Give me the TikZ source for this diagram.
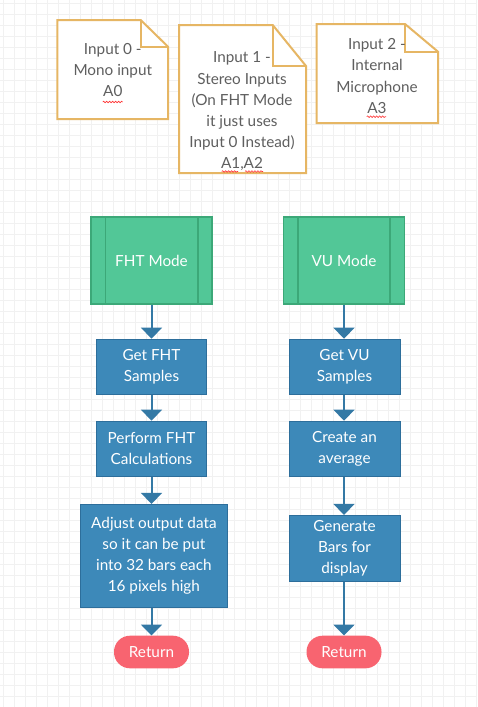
\documentclass[tikz,border=0pt]{standalone}
\usepackage{fontspec}
\setmainfont{Lato}
\usetikzlibrary{arrows.meta,calc,decorations.pathmorphing}
\definecolor{gfill}{RGB}{82,199,151}
\definecolor{gline}{RGB}{60,168,120}
\definecolor{bfill}{RGB}{61,137,185}
\definecolor{bline}{RGB}{45,110,155}
\definecolor{arr}{RGB}{52,121,165}
\definecolor{rfill}{RGB}{248,100,112}
\definecolor{gold}{RGB}{230,182,100}
\definecolor{notetxt}{RGB}{95,95,95}
\definecolor{gridc}{RGB}{241,241,241}
\tikzset{
  every node/.style={font=\fontsize{15.3}{21.2}\selectfont},
  modebox/.style={draw=gline,fill=gfill,line width=1.5pt,text=white,minimum height=87pt,inner sep=0pt},
  procbox/.style={draw=bline,fill=bfill,line width=0.8pt,text=white,align=center,inner sep=0pt},
  retbox/.style={fill=rfill,text=white,rounded corners=16pt,minimum width=75pt,minimum height=32.6pt,inner sep=0pt},
  flow/.style={draw=arr,line width=2pt,-{Triangle[width=21pt,length=11pt]}},
  notebox/.style={draw=gold,fill=white,line width=2pt,line join=miter},
  notetext/.style={text=notetxt,align=center,inner sep=0pt},
  squig/.style={draw=red!80!white,line width=0.6pt,decorate,decoration={snake,segment length=3pt,amplitude=0.8pt}}
}
\begin{document}
\begin{tikzpicture}[x=1pt,y=-1pt]
\useasboundingbox (0,0) rectangle (477,707);
\fill[white] (0,0) rectangle (477,707);
\foreach \i in {0,...,43} {\draw[gridc,line width=0.6pt] (\i*11+3,0) -- (\i*11+3,707);}
\foreach \j in {0,...,64} {\draw[gridc,line width=0.6pt] (0,\j*11+3) -- (477,\j*11+3);}

% notes
\draw[notebox] (57.3,20) -- (140.7,20) -- (168,46.7) -- (168,119) -- (57.3,119) -- cycle;
\draw[gold,line width=2pt] (140.7,20) -- (140.7,46.7) -- (168,46.7);
\node[notetext] (n0) at (112.8,70) {Input 0 -\\Mono input\\A0};
\draw[notebox] (179,25) -- (272.7,25) -- (306,66) -- (306,173) -- (179,173) -- cycle;
\draw[gold,line width=2pt] (272.7,25) -- (272.7,66) -- (306,66);
\node[notetext] (n1) at (242,111.5) {Input 1 -\\Stereo Inputs\\(On FHT Mode\\it just uses\\Input 0 Instead)\\A1,A2};
\draw[notebox] (316.7,24) -- (405,24) -- (438,51.7) -- (438,123) -- (316.7,123) -- cycle;
\draw[gold,line width=2pt] (405,24) -- (405,51.7) -- (438,51.7);
\node[notetext] (n2) at (377,76) {Input 2 -\\Internal\\Microphone\\A3};
\draw[squig] (102.7,102) -- (122.7,102);
\draw[squig] (221.7,171.5) -- (238,171.5);
\draw[squig] (245,171.5) -- (263,171.5);
\draw[squig] (366.7,116.7) -- (386,116.7);

% left column
\node[modebox,minimum width=121pt] (fht) at (151.5,260.7) {FHT Mode};
\draw[gline,line width=1.5pt] ($(fht.north west)+(15,0)$) -- ($(fht.south west)+(15,0)$)
  ($(fht.north east)+(-15,0)$) -- ($(fht.south east)+(-15,0)$);
\node[procbox,minimum width=110.4pt,minimum height=55.3pt] (getf) at (151.5,366.7) {Get FHT\\Samples};
\node[procbox,minimum width=110.4pt,minimum height=55.3pt] (perf) at (151.5,448.7) {Perform FHT\\Calculations};
\node[procbox,minimum width=147.7pt,minimum height=103pt] (adj) at (153.9,555.8) {Adjust output data\\so it can be put\\into 32 bars each\\16 pixels high};
\node[retbox] (retf) at (151.5,652) {Return};

% right column
\node[modebox,minimum width=120.6pt] (vu) at (344,260.7) {VU Mode};
\draw[gline,line width=1.5pt] ($(vu.north west)+(15,0)$) -- ($(vu.south west)+(15,0)$)
  ($(vu.north east)+(-15,0)$) -- ($(vu.south east)+(-15,0)$);
\node[procbox,minimum width=111pt,minimum height=55.3pt] (getv) at (344.5,366.7) {Get VU\\Samples};
\node[procbox,minimum width=111pt,minimum height=55.3pt] (avg) at (344.5,448.7) {Create an\\average};
\node[procbox,minimum width=111pt,minimum height=66.4pt] (gen) at (344.5,548.5) {Generate\\Bars for\\display};
\node[retbox] (retv) at (344,652) {Return};

% connectors
\draw[flow] (fht.south) -- (fht.south |- getf.north);
\draw[flow] (fht.south |- getf.south) -- (fht.south |- perf.north);
\draw[flow] (fht.south |- perf.south) -- (fht.south |- adj.north);
\draw[flow] (fht.south |- adj.south) -- (retf.north);
\draw[flow] (vu.south) -- (vu.south |- getv.north);
\draw[flow] (vu.south |- getv.south) -- (vu.south |- avg.north);
\draw[flow] (vu.south |- avg.south) -- (vu.south |- gen.north);
\draw[flow] (vu.south |- gen.south) -- (retv.north);
\end{tikzpicture}
\end{document}
